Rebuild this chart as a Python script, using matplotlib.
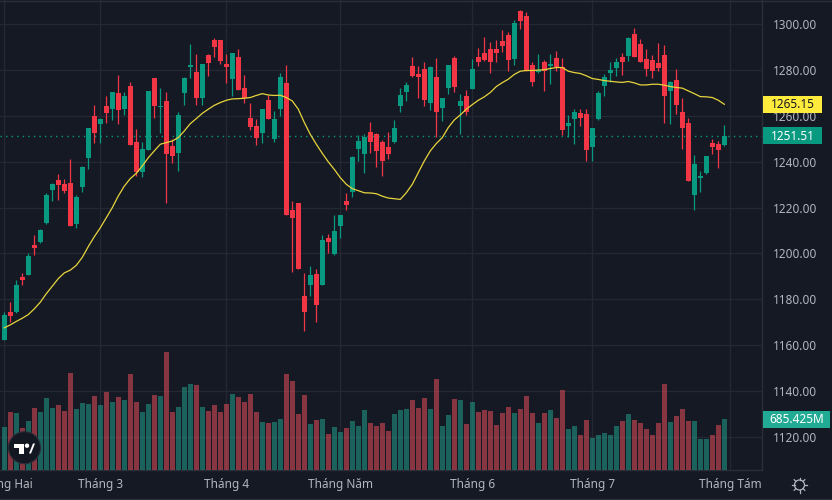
import matplotlib
matplotlib.use("Agg")
import matplotlib.pyplot as plt
from matplotlib.lines import Line2D
from matplotlib.patches import Circle, Polygon, Rectangle
from matplotlib.transforms import IdentityTransform
import numpy as np

opens = [1162.4, 1174.2, 1174.2, 1189.5, 1190.4, 1203.5, 1204.8, 1213.1, 1227.6, 1231.9,
         1230.2, 1230.6, 1212.7, 1228.9, 1241.5, 1259.9, 1256.4, 1264.3, 1263, 1270,
         1263, 1273.1, 1248.5, 1235.4, 1245.1, 1276.5, 1264, 1266.5, 1246.8, 1243.7,
         1270, 1281.3, 1279.2, 1267.8, 1286.6, 1293.2, 1293.2, 1282.7, 1276.1, 1285.7,
         1272.2, 1259.1, 1255.5, 1252.5, 1266.9, 1249.9, 1263, 1274.3, 1218.8, 1221.9,
         1181.2, 1186.4, 1190.8, 1186.4, 1206.6, 1199.6, 1211.8, 1222.7, 1226.7, 1245.5,
         1243.3, 1252.9, 1252, 1248.5, 1246.4, 1248.5, 1264.3, 1270.4, 1281.8, 1278.3,
         1280.5, 1265.6, 1277, 1263.4, 1272.2, 1285.3, 1264.3, 1268.7, 1271.7, 1285.7,
         1287.5, 1289.2, 1289.2, 1292.7, 1295.3, 1284.9, 1305.8, 1303.6, 1282.2, 1279.2,
         1283.5, 1281.8, 1285.3, 1281.4, 1255.5, 1258.6, 1261.2, 1260.8, 1246.4, 1258.6,
         1273.1, 1278.7, 1280.9, 1285.7, 1286.2, 1295.8, 1291.4, 1284.9, 1284.4, 1283.1,
         1286.6, 1270.9, 1275.7, 1261.7, 1256.9, 1225.4, 1232.8, 1235, 1248.1, 1247.7,
         1247.3]
closes = [1173.3, 1172.5, 1186.4, 1188.2, 1198.7, 1202.2, 1210.1, 1225.4, 1230.2, 1229.7,
          1227.1, 1211.8, 1224.5, 1237.6, 1254.7, 1252.5, 1258.6, 1261.2, 1270.4, 1262.5,
          1268.7, 1247.2, 1235.4, 1245.5, 1270.9, 1264.3, 1264.3, 1243.3, 1242.4, 1260.4,
          1276.5, 1282.2, 1267.8, 1282.7, 1283.1, 1290.1, 1284, 1281.3, 1287.5, 1271.3,
          1267.8, 1255.1, 1250.3, 1263, 1258.6, 1258.6, 1277, 1216.6, 1215.3, 1193,
          1174.6, 1190.4, 1177.3, 1205.7, 1204.8, 1209.6, 1216.6, 1221, 1242, 1249,
          1250.7, 1248.5, 1244.6, 1240.2, 1243.3, 1254.7, 1269.1, 1273.5, 1277.4, 1277,
          1266.9, 1281.3, 1261.7, 1267.8, 1282.2, 1272.6, 1266.5, 1261.7, 1280.5, 1283.5,
          1284.4, 1283.5, 1287.5, 1290.5, 1284.4, 1300.6, 1301.5, 1279.6, 1274.8, 1280.1,
          1279.6, 1282.7, 1281.4, 1253.8, 1256.9, 1261.7, 1259, 1245, 1254.7, 1270,
          1277, 1280.1, 1283.5, 1283.5, 1294, 1285.7, 1283.5, 1280.5, 1279.6, 1280.9,
          1268.7, 1274.8, 1264.7, 1254.7, 1231.5, 1238.9, 1233.7, 1242.4, 1246.4, 1245,
          1251.51]
highs = [1174.6, 1178.6, 1188.6, 1191.3, 1200, 1207.9, 1210.5, 1226.3, 1230.6, 1234.5,
         1232.4, 1241.1, 1225.4, 1238, 1254.7, 1264.7, 1259.1, 1268.7, 1270.4, 1277.9,
         1270.4, 1274.8, 1254.2, 1248.5, 1270.9, 1276.5, 1272.2, 1270.4, 1249.9, 1261.7,
         1277, 1291.4, 1287, 1282.7, 1287, 1294, 1293.2, 1287, 1287.5, 1289.2,
         1277.9, 1265.6, 1258.6, 1263, 1269.1, 1262.1, 1278.7, 1282.2, 1222.7, 1221.9,
         1191.3, 1194.3, 1193, 1207.9, 1208.7, 1217, 1217, 1226.3, 1242.4, 1251.6,
         1252, 1257.3, 1252.5, 1249.4, 1252.9, 1258.2, 1272.2, 1274.8, 1285.7, 1281.8,
         1283.5, 1281.8, 1285.3, 1267.8, 1282.2, 1286.2, 1269.5, 1271.3, 1284.8, 1289.7,
         1294.5, 1292.3, 1293.2, 1297.5, 1296.7, 1301.9, 1306.3, 1305.4, 1283.5, 1287,
         1284.4, 1287, 1288.4, 1285.3, 1260.4, 1263, 1263, 1263, 1254.7, 1270.9,
         1278.3, 1283.5, 1285.3, 1287.5, 1294.5, 1298.4, 1293.6, 1289.2, 1286.6, 1291.9,
         1291, 1275.2, 1280.5, 1267.8, 1259, 1242.9, 1235.9, 1242.4, 1249.9, 1249,
         1256]
lows = [1162.4, 1169.9, 1173.8, 1186, 1190.4, 1199.2, 1204.4, 1212.7, 1222.7, 1223.2,
        1226.3, 1211.8, 1210.9, 1226.7, 1236.7, 1248.1, 1248.1, 1256.9, 1258.2, 1256.4,
        1260.4, 1247.2, 1233.7, 1233.2, 1245.1, 1259.1, 1252.5, 1221.9, 1239.4, 1235.9,
        1264.7, 1276.5, 1264.7, 1264.7, 1277.4, 1285.7, 1282.7, 1274.3, 1268.7, 1271.3,
        1265.6, 1253.8, 1247.2, 1248.1, 1258.6, 1248.5, 1259.9, 1216.6, 1192.1, 1193,
        1166.3, 1181.2, 1169.9, 1186, 1200.4, 1199.2, 1206.6, 1218.8, 1224.5, 1240.2,
        1235, 1243.7, 1237.6, 1233.7, 1241.1, 1248.1, 1261.7, 1266.5, 1277, 1267.8,
        1264.3, 1262.5, 1250.7, 1257.7, 1269.5, 1270.4, 1252, 1260.4, 1271.7, 1281.8,
        1284, 1278.7, 1283.5, 1287.9, 1279.6, 1282.2, 1298, 1279.6, 1273.1, 1278.7,
        1270.9, 1273.9, 1279.6, 1251.6, 1250.7, 1247.7, 1255.5, 1240.2, 1240.2, 1258.2,
        1268.7, 1274.8, 1277.4, 1277.9, 1284, 1285.7, 1283.5, 1277.4, 1276.6, 1279.6,
        1256.9, 1256.4, 1260.8, 1245.5, 1231.5, 1218.8, 1226.7, 1234.6, 1243.3, 1237.2,
        1246.8]
moving_avg = [1167.5, 1168.8, 1170.3, 1171.7, 1173.3, 1175.8, 1178.7, 1182.4, 1185.7, 1189,
              1191.5, 1192.7, 1194.8, 1198.3, 1203, 1207.3, 1211.2, 1215.6, 1220, 1225.1,
              1229.4, 1232.7, 1235, 1238.2, 1241.8, 1244.8, 1247.7, 1248.4, 1249.1, 1250.6,
              1253.5, 1256.7, 1258.9, 1261.2, 1263, 1264.7, 1265.9, 1266.9, 1267.5, 1267.6,
              1267.8, 1268.1, 1269, 1269.8, 1269.2, 1269, 1269.1, 1268.1, 1266.6, 1263,
              1257.2, 1252, 1247.7, 1243.7, 1240, 1236.7, 1233.1, 1230.2, 1228.3, 1227.4,
              1226.5, 1226.4, 1226.1, 1225, 1224.2, 1223.9, 1223.6, 1226.5, 1230.2, 1235.3,
              1240.4, 1244.8, 1248, 1250.6, 1255, 1258.3, 1260.5, 1263, 1265, 1266.9,
              1268.4, 1270.3, 1272.9, 1274.6, 1276.1, 1278.2, 1279.6, 1279.9, 1279.9, 1280.1,
              1280.2, 1280.8, 1281.2, 1281.2, 1279.6, 1279, 1278.6, 1277.6, 1276.4, 1276,
              1275.5, 1275.2, 1274.9, 1274.7, 1275.1, 1274.5, 1273.6, 1273.6, 1273.9, 1273.9,
              1273.5, 1272.9, 1272.5, 1272.2, 1271, 1269.8, 1268.5, 1268.4, 1268.1, 1266.9,
              1265.15]
volumes = [578, 780, 766, 564, 659, 833, 780, 968, 833, 874,
           793, 1304, 820, 900, 887, 995, 874, 1048, 914, 981,
           941, 1290, 914, 780, 887, 1008, 995, 1586, 780, 847,
           1116, 1156, 1142, 847, 793, 874, 780, 887, 1021, 981,
           914, 1021, 780, 645, 632, 645, 685, 1290, 1196, 753,
           1008, 618, 672, 685, 484, 578, 511, 564, 659, 591,
           806, 632, 591, 632, 524, 753, 806, 820, 941, 833,
           968, 820, 1223, 591, 739, 954, 941, 618, 914, 780,
           806, 793, 605, 766, 847, 766, 820, 995, 766, 632,
           766, 806, 699, 1075, 551, 591, 470, 672, 430, 470,
           497, 470, 591, 659, 753, 672, 632, 551, 470, 632,
           1156, 645, 726, 820, 659, 659, 417, 417, 470, 605,
           685.425]

price_ticks = [1120, 1140, 1160, 1180, 1200, 1220, 1240, 1260, 1280, 1300]
month_pos = [0, 16, 37, 56, 78, 98, 121]
month_labels = ["Tháng Hai", "Tháng 3", "Tháng 4", "Tháng Năm", "Tháng 6", "Tháng 7", "Tháng Tám"]

BG = "#151924"
GRID = "#242833"
LINE = "#2a2e39"
TEXT = "#b2b5be"
UP = "#089981"
DOWN = "#f23645"
W, H = 832, 500

plt.rcParams["font.family"] = ["Noto Sans", "DejaVu Sans"]
plt.rcParams["font.size"] = 8.5

fig = plt.figure(figsize=(W / 100, H / 100), dpi=100, facecolor=BG)
rect = [0, 30 / H, 762 / W, 470 / H]

# price axes carry the grid, volume goes over it half transparent
ax = fig.add_axes(rect, facecolor=BG)
ax_vol = fig.add_axes(rect, facecolor="none")

x = np.arange(len(closes))
xlim = (-4.3 / 6, (762 - 4.3) / 6)
opens_a, closes_a = np.array(opens), np.array(closes)
up = closes_a >= opens_a
colors = np.where(up, UP, DOWN)
vol_colors = np.where(up, "#22ab94", "#f7525f")

ax_vol.bar(x, volumes, width=5 / 6, color=vol_colors, alpha=0.5, linewidth=0)
ax_vol.set_xlim(xlim)
ax_vol.set_ylim(0, 470 * 13.44)
ax_vol.axis("off")

ax.grid(True, color=GRID, linewidth=1)
ax.set_axisbelow(True)
ax.vlines(x, lows, highs, colors=colors, linewidth=0.9, zorder=2)
ax.bar(x, np.abs(closes_a - opens_a), bottom=np.minimum(opens_a, closes_a), width=5 / 6,
       color=colors, linewidth=0, zorder=3)
ax.plot(x, moving_avg, color="#e6d43c", linewidth=0.9, zorder=4)
ax.axhline(closes[-1], color=UP, linewidth=1, linestyle=(0, (1, 3)), zorder=1)

ax.set_xlim(xlim)
ax.set_ylim(1105.4, 1310.7)
ax.set_yticks(price_ticks)
ax.set_yticklabels([f"{p:.2f}" for p in price_ticks], color=TEXT)
ax.yaxis.tick_right()
ax.set_xticks(month_pos)
ax.set_xticklabels(month_labels, color=TEXT)
ax.tick_params(axis="both", length=0)
ax.tick_params(axis="y", pad=8)
ax.tick_params(axis="x", pad=6)
for name in ["top", "left"]:
    ax.spines[name].set_visible(False)
for name in ["bottom", "right"]:
    ax.spines[name].set_color(LINE)
    ax.spines[name].set_linewidth(1)


def price_tag(axis, value, text, face, ink, width):
    fig.canvas.draw()
    yc = axis.transData.transform((0, value))[1]
    fig.add_artist(Rectangle((763, yc - 8.5), width, 17, facecolor=face, edgecolor="none",
                             transform=IdentityTransform()))
    fig.text(763 + width / 2, yc - 0.5, text, color=ink, ha="center", va="center",
             transform=IdentityTransform(), fontweight="medium")


price_tag(ax, moving_avg[-1], f"{moving_avg[-1]:.2f}", "#ffeb3b", "#131722", 59)
price_tag(ax, closes[-1], f"{closes[-1]:.2f}", UP, "white", 59)
price_tag(ax_vol, volumes[-1], f"{volumes[-1]:.3f}M", "#22ab94", "white", 67)

# logo and settings icon, in pixel coordinates
over = fig.add_axes([0, 0, 1, 1], facecolor="none")
over.set_xlim(0, W)
over.set_ylim(H, 0)
over.axis("off")
over.add_patch(Circle((24.5, 447.7), 16, facecolor="#131722", edgecolor="#2a2e39", linewidth=0.8))
over.add_patch(Polygon([(14, 443.5), (23.5, 443.5), (23.5, 453.5), (18.5, 453.5), (18.5, 448), (14, 448)],
                       facecolor="white", edgecolor="none"))
over.add_patch(Circle((27, 445.7), 2.2, facecolor="white", edgecolor="none"))
over.add_patch(Polygon([(29, 453.5), (33, 443.5), (35, 443.5), (31, 453.5)], facecolor="white", edgecolor="none"))

over.add_patch(Circle((799.5, 485), 5, facecolor="none", edgecolor=TEXT, linewidth=0.9))
for ang in np.arange(0, 360, 45):
    a = np.deg2rad(ang)
    over.plot([799.5 + 5 * np.cos(a), 799.5 + 7.5 * np.cos(a)],
              [485 + 5 * np.sin(a), 485 + 7.5 * np.sin(a)], color=TEXT, linewidth=0.9)

fig.add_artist(Line2D([0, 1], [1.5 / H, 1.5 / H], color=LINE, linewidth=1))
fig.add_artist(Line2D([0, 1], [1 - 0.5 / H, 1 - 0.5 / H], color=LINE, linewidth=1))

fig.savefig("out.png", dpi=100, facecolor=BG)
